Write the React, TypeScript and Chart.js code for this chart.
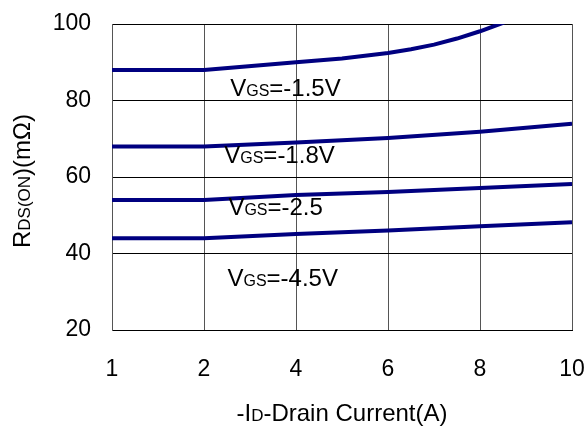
import { useEffect, useRef } from "react";
import { Chart, registerables } from "chart.js";

Chart.register(...registerables);

// Tick labels of the (evenly spaced) current axis
const xTickLabels = [1, 2, 4, 6, 8, 10];
const yMin = 20;
const yMax = 100;
const yStep = 20;

// VGS = -1.5V curve (current in A, RDS(on) in mΩ)
const amps15 = [1, 2, 4, 5, 6, 6.5, 7, 7.5, 8, 8.5, 9];
const rds15 = [88, 88, 90, 91, 92.4, 93.4, 94.6, 96.2, 98.1, 100.3, 103];

// Other curves share these currents
const amps = [1, 2, 4, 6, 8, 10];
const rds18 = [68, 68, 69, 70.2, 71.8, 73.9];
const rds25 = [54, 54, 55.3, 56.1, 57.1, 58.2];
const rds45 = [44, 44, 45.1, 46, 47.1, 48.2];

// Curve annotations
const labelRest = ["=-1.5V", "=-1.8V", "=-2.5", "=-4.5V"];
const labelAmps = [2.57, 2.44, 2.53, 2.51];
const labelRds = [81.1, 63.7, 50.1, 31.4];

const FONT = "'Liberation Sans', Arial, sans-serif";
const LINE = "#000080";

// position on the evenly spaced axis (1,2,4,6,8,10 -> 0..5)
const pos = (a: number) => (a <= 2 ? a - 1 : 1 + (a - 2) / 2);

function drawRich(
  ctx: CanvasRenderingContext2D,
  parts: { t: string; s: number }[],
  x: number,
  y: number
) {
  let cx = x;
  for (const p of parts) {
    ctx.font = `${p.s}px ${FONT}`;
    ctx.fillText(p.t, cx, y);
    cx += ctx.measureText(p.t).width;
  }
}

function richWidth(ctx: CanvasRenderingContext2D, parts: { t: string; s: number }[]) {
  let w = 0;
  for (const p of parts) {
    ctx.font = `${p.s}px ${FONT}`;
    w += ctx.measureText(p.t).width;
  }
  return w;
}

const textPlugin = {
  id: "texts",
  afterDraw(chart: any) {
    const ctx: CanvasRenderingContext2D = chart.ctx;
    const xs = chart.scales.x;
    const ys = chart.scales.y;
    ctx.save();
    ctx.fillStyle = "#000";
    ctx.textBaseline = "alphabetic";
    ctx.textAlign = "left";
    // curve labels
    for (let i = 0; i < labelRest.length; i++) {
      const px = xs.getPixelForValue(pos(labelAmps[i]));
      const py = ys.getPixelForValue(labelRds[i]);
      drawRich(
        ctx,
        [
          { t: "V", s: 24 },
          { t: "GS", s: 16 },
          { t: labelRest[i], s: 24 },
        ],
        px,
        py
      );
    }
    // x axis title
    const xParts = [
      { t: "-I", s: 24 },
      { t: "D", s: 17 },
      { t: "-Drain Current(A)", s: 24 },
    ];
    const xw = richWidth(ctx, xParts);
    const xc = (chart.chartArea.left + chart.chartArea.right) / 2;
    drawRich(ctx, xParts, xc - xw / 2, 421);
    // y axis title
    const yParts = [
      { t: "R", s: 24 },
      { t: "DS(ON", s: 17 },
      { t: ")(m\u03A9)", s: 24 },
    ];
    const yw = richWidth(ctx, yParts);
    const yc = (chart.chartArea.top + chart.chartArea.bottom) / 2 + 4;
    ctx.translate(30, yc);
    ctx.rotate(-Math.PI / 2);
    drawRich(ctx, yParts, -yw / 2, 0);
    ctx.restore();
  },
};

const mk = (xa: number[], ya: number[]) => xa.map((a, i) => ({ x: pos(a), y: ya[i] }));

export default function App() {
  const ref = useRef<HTMLCanvasElement | null>(null);
  useEffect(() => {
    document.body.style.margin = "0";
    const canvas = ref.current!;
    const ds = (data: any) => ({
      data,
      borderColor: LINE,
      borderWidth: 4,
      pointRadius: 0,
      tension: 0,
      fill: false,
    });
    const chart = new Chart(canvas, {
      type: "line",
      data: {
        datasets: [ds(mk(amps15, rds15)), ds(mk(amps, rds18)), ds(mk(amps, rds25)), ds(mk(amps, rds45))],
      },
      options: {
        animation: false,
        responsive: true,
        maintainAspectRatio: false,
        layout: { padding: { top: 24, right: 16, left: 0, bottom: 0 } },
        plugins: { legend: { display: false }, tooltip: { enabled: false } },
        scales: {
          x: {
            type: "linear",
            min: 0,
            max: 5,
            afterFit: (s: any) => {
              s.height = 97;
              s.paddingLeft = 0;
              s.paddingRight = 0;
            },
            ticks: {
              stepSize: 1,
              color: "#000",
              padding: 26,
              font: { size: 23, family: FONT },
              callback: (v: any) => xTickLabels[Math.round(Number(v))] ?? "",
              maxRotation: 0,
            },
            grid: { color: "#555", lineWidth: 1, drawTicks: false },
            border: { color: "#000", width: 1 },
          },
          y: {
            min: yMin,
            max: yMax,
            afterFit: (s: any) => {
              s.width = 112;
              s.paddingTop = 0;
              s.paddingBottom = 0;
            },
            ticks: {
              stepSize: yStep,
              color: "#000",
              padding: 21,
              font: { size: 23, family: FONT },
            },
            grid: { color: "#000", lineWidth: 1, drawTicks: false },
            border: { color: "#555", width: 1 },
          },
        },
      },
      plugins: [textPlugin],
    });
    return () => chart.destroy();
  }, []);
  return (
    <div style={{ width: 588, height: 427, position: "relative" }}>
      <canvas ref={ref} />
    </div>
  );
}
